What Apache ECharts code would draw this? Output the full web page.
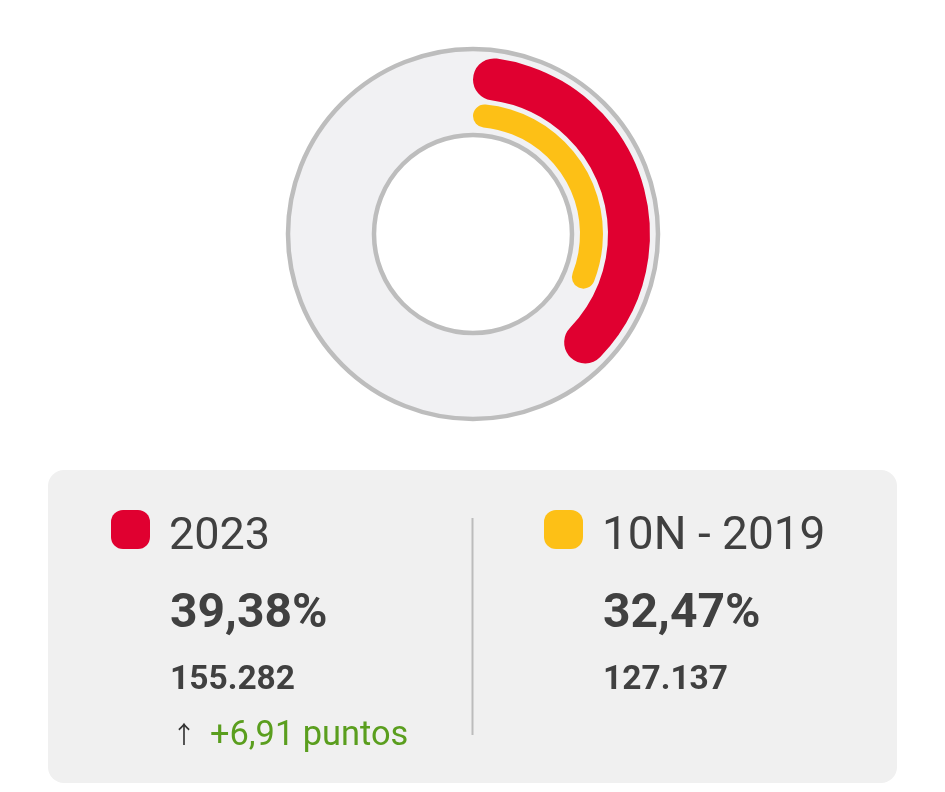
<!DOCTYPE html>
<html>
<head>
<meta charset="utf-8">
<title>2023 - 10N 2019</title>
<style>
html,body{margin:0;padding:0;background:#fff}
#main{width:945px;height:792px}
</style>
<script src="https://cdn.jsdelivr.net/npm/echarts@6/dist/echarts.min.js"></script>
</head>
<body>
<div id="main"></div>
<script>
var elections = ['2023', '10N - 2019'];
var shares = [39.38, 32.47];
var shareLabels = ['39,38%', '32,47%'];
var votes = ['155.282', '127.137'];
var change = '+6,91 puntos';
var colors = ['#e00030', '#fdc016'];

var myChart = echarts.init(document.getElementById('main'));
var cx = 473, cy = 234;

// un anillo por eleccion, el resto del 100% queda transparente
function ring(i, radius, corner) {
    return {
        type: 'pie',
        center: [cx, cy],
        radius: radius,
        startAngle: 90,
        silent: true,
        animation: false,
        label: {show: false},
        labelLine: {show: false},
        itemStyle: {borderRadius: corner},
        data: [
            {name: elections[i], value: shares[i], itemStyle: {color: colors[i]}},
            {name: 'resto', value: 100 - shares[i], itemStyle: {color: 'transparent'}}
        ]
    };
}

function text(x, y, str, size, weight, color, family) {
    return {
        type: 'text',
        x: x,
        y: y,
        z: 2,
        style: {
            text: str,
            fill: color || '#404040',
            font: weight + ' ' + size + 'px ' + (family || 'Roboto'),
            textVerticalAlign: 'middle'
        }
    };
}

// la leyenda solo pone el cuadrado, el texto va en graphic para colocarlo bien
function legend(i, left) {
    return {
        data: [elections[i]],
        left: left,
        top: 510,
        padding: 0,
        itemWidth: 39,
        itemHeight: 39,
        itemGap: 0,
        icon: 'path://M12 0H27A12 12 0 0 1 39 12V27A12 12 0 0 1 27 39H12A12 12 0 0 1 0 27V12A12 12 0 0 1 12 0Z',
        selectedMode: false,
        formatter: function () { return ''; }
    };
}

var option = {
    animation: false,
    legend: [legend(0, 111), legend(1, 544)],
    graphic: [
        {type: 'rect', z: 0, shape: {x: 48, y: 470, width: 849, height: 313, r: 16}, style: {fill: '#f0f0f0'}},
        {type: 'rect', z: 1, shape: {x: 471.5, y: 518, width: 2, height: 217}, style: {fill: '#bcbcbc'}},
        text(169, 537.5, elections[0], 45, 'normal'),
        text(602, 537.5, elections[1], 46, 'normal'),
        text(170, 615, shareLabels[0], 48, 'bold'),
        text(603, 615, shareLabels[1], 48, 'bold'),
        text(170, 681, votes[0], 33.5, 'bold'),
        text(603, 681, votes[1], 33.5, 'bold'),
        text(172, 734, '↑', 24, 'normal', '#333', 'Noto Sans CJK SC'),
        text(210, 736, change, 34.4, 'normal', '#5a9e1e')
    ],
    series: [
        {
            type: 'pie',
            center: [cx, cy],
            radius: [99, 185],
            silent: true,
            animation: false,
            label: {show: false},
            labelLine: {show: false},
            itemStyle: {color: '#f1f1f3', borderColor: '#bdbdbd', borderWidth: 4.5},
            data: [{name: 'fondo', value: 100}]
        },
        ring(0, [135, 177], 21),
        ring(1, [107, 130], 11.5)
    ]
};
myChart.setOption(option);
</script>
</body>
</html>
